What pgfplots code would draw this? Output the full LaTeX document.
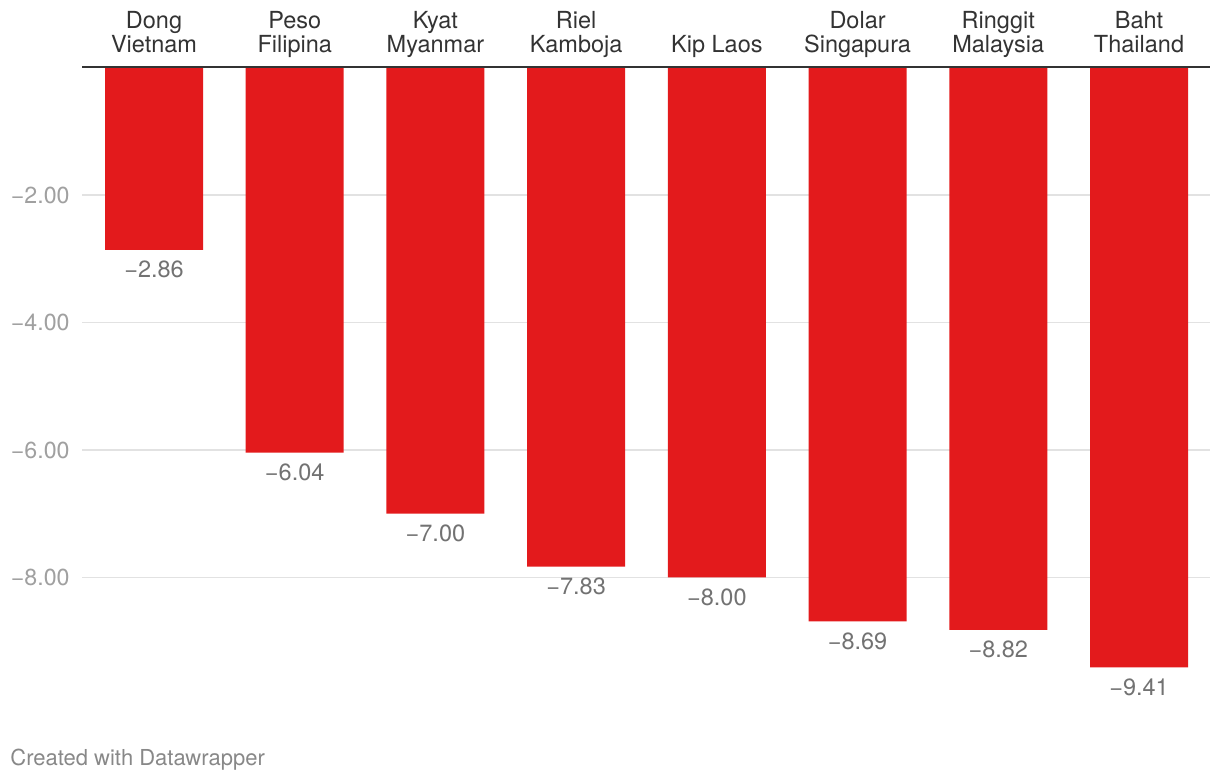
\documentclass[border=0pt]{standalone}
\usepackage{fontspec}
\setmainfont{TeX Gyre Heros}
\usepackage{pgfplots}
\pgfplotsset{compat=1.18}
\definecolor{barred}{HTML}{E31A1C}
\definecolor{gridgray}{HTML}{E2E2E2}
\definecolor{tickgray}{HTML}{A0A0A0}
\definecolor{valgray}{HTML}{727272}
\definecolor{catdark}{HTML}{333333}
\definecolor{axisdark}{HTML}{333333}
\definecolor{footgray}{HTML}{888888}
\begin{document}
\begin{tikzpicture}
\useasboundingbox (0,0) rectangle (610pt,390pt);
\begin{axis}[
  at={(41pt,37.5pt)}, anchor=south west,
  scale only axis, width=564pt, height=318.75pt,
  xmin=-0.5117, xmax=7.5046, ymin=-10, ymax=0,
  clip=false,
  axis line style={draw=none},
  major tick length=0pt,
  ytick={-8,-6,-4,-2},
  yticklabels={−8.00,−6.00,−4.00,−2.00},
  ymajorgrids,
  grid style={draw=gridgray, line width=0.6pt},
  yticklabel style={anchor=east, inner sep=0pt, xshift=-6pt, text=tickgray, font=\fontsize{11.6}{13}\selectfont},
  xtick={0,1,2,3,4,5,6,7},
  xticklabels={{Dong\\Vietnam},{Peso\\Filipina},{Kyat\\Myanmar},{Riel\\Kamboja},{Kip Laos},{Dolar\\Singapura},{Ringgit\\Malaysia},{Baht\\Thailand}},
  xticklabel pos=right,
  xticklabel style={anchor=south, align=center, inner sep=0pt, text depth=0pt, yshift=7.25pt, text=catdark, font=\fontsize{11.75}{12}\selectfont},
]
\addplot[ybar, bar width=0.6965, fill=barred, draw=none,
  nodes near coords, point meta=explicit symbolic,
  nodes near coords align=center,
  every node near coord/.append style={anchor=north, inner sep=0pt, yshift=-5.35pt, text=valgray, font=\fontsize{11.75}{13}\selectfont}]
  coordinates {
  (0,-2.86) [−2.86]
  (1,-6.04) [−6.04]
  (2,-7.00) [−7.00]
  (3,-7.83) [−7.83]
  (4,-8.00) [−8.00]
  (5,-8.69) [−8.69]
  (6,-8.82) [−8.82]
  (7,-9.41) [−9.41]
  };
\draw[line width=1pt, color=axisdark] (axis cs:-0.5117,0) -- (axis cs:7.5046,0);
\end{axis}
\node[anchor=base west, inner sep=0pt, text=footgray, font=\fontsize{11}{13}\selectfont] at (5pt,7.2pt) {Created with Datawrapper};
\end{tikzpicture}
\end{document}
